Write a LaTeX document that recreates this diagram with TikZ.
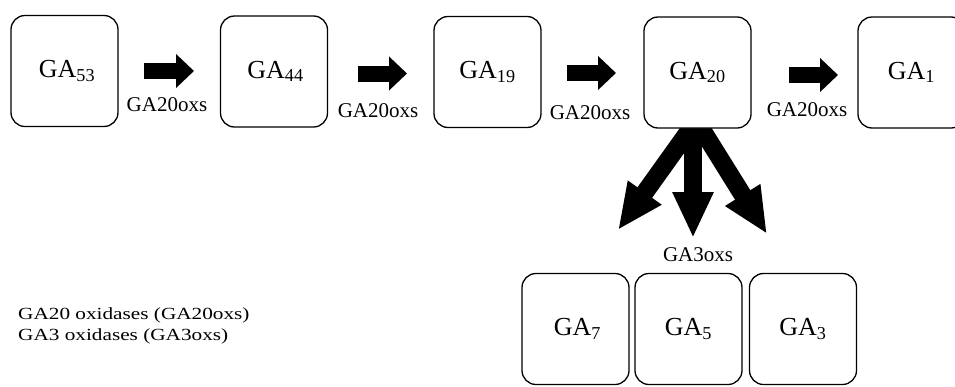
\documentclass[tikz,border=0pt]{standalone}
\usepackage{fontspec}
\setmainfont{Liberation Serif}
\newfontfamily\legendfont{Liberation Serif}[FakeStretch=1.25]
\usetikzlibrary{arrows.meta,calc}
\begin{document}
\begin{tikzpicture}[x=1pt,y=-1pt,
  gabox/.style={draw, rounded corners=14pt, line width=1.3pt, fill=white,
    minimum width=107pt, minimum height=111pt, inner sep=0pt,
    font=\fontsize{26}{30}\selectfont},
  flow/.style={line width=16pt, -{Triangle[width=33pt,length=18pt]}},
  fat/.style={line width=18pt, -{Triangle[width=38pt,length=46pt]}},
  enz/.style={font=\fontsize{21}{24}\selectfont, inner sep=0pt},
  legend/.style={font=\legendfont\fontsize{17}{20}\selectfont, inner sep=0pt, anchor=base west}]
\useasboundingbox (0,0) rectangle (955,386);
\fill[white] (0,0) rectangle (955,386);

% big arrows from GA20 (drawn first; box covers their start)
\coordinate (f1s) at (696.7,120); \coordinate (f1t) at (618,230);
\coordinate (f2s) at (693,120);   \coordinate (f2t) at (693,238);
\coordinate (f3s) at (696,120);   \coordinate (f3t) at (767,234);
\draw[fat] (f1s) -- (f1t);
\draw[fat] (f2s) -- (f2t);
\draw[fat] (f3s) -- (f3t);

% boxes
\node[gabox] (ga53) at (64.5,71)  {\hspace{5pt}GA\textsubscript{53}};
\node[gabox] (ga44) at (274,71.5) {\hspace{3pt}GA\textsubscript{44}};
\node[gabox] (ga19) at (487.5,72) {GA\textsubscript{19}};
\node[gabox] (ga20) at (697.5,72.5) {GA\textsubscript{20}};
\node[gabox] (ga1)  at (911.5,72.5) {GA\textsubscript{1}};
\node[gabox] (ga7)  at (575.5,329) {\hspace{4pt}GA\textsubscript{7}};
\node[gabox] (ga5)  at (688.5,329) {GA\textsubscript{5}};
\node[gabox] (ga3)  at (803,329)   {GA\textsubscript{3}};

% horizontal arrows
\coordinate (a1s) at (144,71);   \coordinate (a1t) at (194,71);
\coordinate (a2s) at (358,73.5); \coordinate (a2t) at (407,73.5);
\coordinate (a3s) at (567,73);   \coordinate (a3t) at (616,73);
\coordinate (a4s) at (789,75);   \coordinate (a4t) at (838,75);
\draw[flow] (a1s) -- (a1t);
\draw[flow] (a2s) -- (a2t);
\draw[flow] (a3s) -- (a3t);
\draw[flow] (a4s) -- (a4t);

% enzyme labels
\node[enz] (l1) at (167,105) {GA20oxs};
\node[enz] (l2) at (378,111) {GA20oxs};
\node[enz] (l3) at (590,113) {GA20oxs};
\node[enz] (l4) at (807,110) {GA20oxs};
\node[enz] (l5) at (698,255) {GA3oxs};

% legend
\node[legend] (lg1) at (18,319) {GA20 oxidases (GA20oxs)};
\node[legend] (lg2) at (18,340) {GA3 oxidases (GA3oxs)};
\end{tikzpicture}
\end{document}
